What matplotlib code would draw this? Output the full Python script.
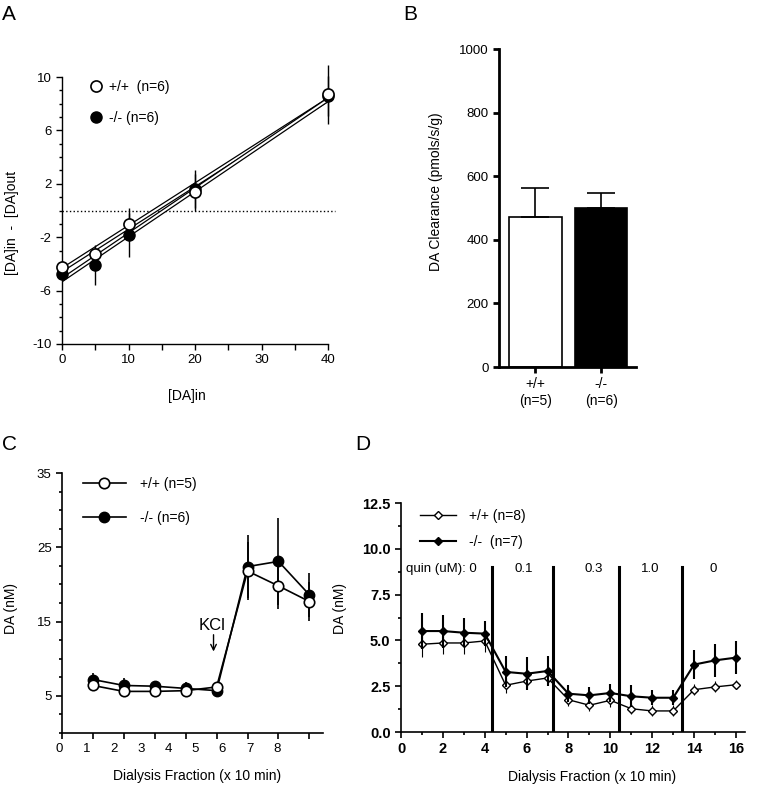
import numpy as np
import matplotlib
matplotlib.use('Agg')
import matplotlib.pyplot as plt
from matplotlib.lines import Line2D
import matplotlib.transforms as mtransforms

plt.rcParams['font.family'] = ['Liberation Sans', 'DejaVu Sans']
plt.rcParams['axes.unicode_minus'] = False
plt.rcParams['font.size'] = 10
plt.rcParams['xtick.labelsize'] = 9.5
plt.rcParams['ytick.labelsize'] = 9.5

# ---- Panel A data ----
a_x = [0, 5, 10, 20, 40]
a_wt = [-4.2, -3.25, -1.0, 1.35, 8.7]
a_wt_err = [0.3, 0.3, 1.2, 1.35, 2.2]
a_ko = [-4.75, -4.1, -1.8, 1.6, 8.6]
a_ko_err = [0.3, 1.5, 1.65, 1.45, 1.5]
a_fit_x = [0, 40]
a_fit_wt = [-4.45, 8.3]
a_fit_ko = [-5.2, 8.3]

# ---- Panel B data ----
b_labels = ['+/+\n(n=5)', '-/-\n(n=6)']
b_vals = [472, 500]
b_err = [91, 47]

# ---- Panel C data ----
c_x = [1, 2, 3, 4, 5, 6, 7, 8]
c_wt = [6.4, 5.6, 5.6, 5.7, 6.2, 21.8, 19.8, 17.7]
c_wt_err = [0.5, 0.4, 0.4, 0.5, 0.4, 3.9, 3.1, 2.6]
c_ko = [7.2, 6.4, 6.3, 6.0, 5.7, 22.4, 23.1, 18.6]
c_ko_err = [0.9, 1.0, 0.6, 0.8, 0.9, 4.2, 5.9, 3.0]
c_ticklabels = ['0', '1', '2', '3', '4', '5', '6', '7', '8']

# ---- Panel D data ----
d_x = list(range(1, 17))
d_wt = [4.79, 4.86, 4.86, 4.97, 2.55, 2.78, 2.95, 1.76, 1.46, 1.73, 1.27, 1.15, 1.15, 2.31, 2.46, 2.58]
d_wt_err = [0.7, 0.6, 0.6, 0.6, 0.4, 0.3, 0.3, 0.35, 0.3, 0.35, 0.3, 0.3, 0.3, 0.3, 0.3, 0.25]
d_ko = [5.51, 5.51, 5.42, 5.37, 3.28, 3.18, 3.33, 2.09, 2.0, 2.13, 1.95, 1.87, 1.87, 3.68, 3.91, 4.06]
d_ko_err = [1.0, 0.9, 0.8, 0.7, 0.85, 0.9, 0.8, 0.45, 0.45, 0.5, 0.6, 0.4, 0.4, 0.8, 0.9, 0.9]
d_quin_edges = [4.37, 7.25, 10.41, 13.4]
d_quin_labels = ['quin (uM): 0', '0.1', '0.3', '1.0', '0']
d_quin_label_x = [0.25, 5.85, 9.19, 11.92, 14.9]

fig = plt.figure(figsize=(7.57, 7.90), dpi=100)


def clean_axes(ax, lw=1.0):
    ax.spines['top'].set_visible(False)
    ax.spines['right'].set_visible(False)
    ax.spines['left'].set_linewidth(lw)
    ax.spines['bottom'].set_linewidth(lw)
    ax.tick_params(which='major', direction='out', length=4, width=lw)
    ax.tick_params(which='minor', direction='out', length=2.5, width=lw)


# ================= A =================
axA = fig.add_axes([62/757, 1-344/790, 266/757, 267/790])
clean_axes(axA)
axA.plot([0, 41], [0, 0], ':', color='black', lw=1, clip_on=False)
for fy in [a_fit_wt, a_fit_ko]:
    axA.plot(a_fit_x, fy, '-', color='black', lw=3.2, zorder=2)
    axA.plot(a_fit_x, fy, '-', color='white', lw=1.4, zorder=2)
eb = axA.errorbar(a_x, a_ko, yerr=a_ko_err, fmt='o', ms=8, mfc='black', mec='black',
                  ecolor='black', elinewidth=1, capsize=0, zorder=3)
for art in eb.lines[0:1] + tuple(eb.lines[2]):
    art.set_clip_on(False)
eb = axA.errorbar(a_x, a_wt, yerr=a_wt_err, fmt='o', ms=8, mfc='white', mec='black', mew=1.2,
                  ecolor='black', elinewidth=1, capsize=0, zorder=4)
for art in eb.lines[0:1] + tuple(eb.lines[2]):
    art.set_clip_on(False)
axA.set_xlim(0, 40)
axA.set_ylim(-10, 10)
axA.set_xticks([0, 10, 20, 30, 40])
axA.set_xticks([5, 15, 25, 35], minor=True)
axA.set_yticks([-10, -6, -2, 2, 6, 10])
axA.set_yticks(np.arange(-10, 11, 1), minor=True)
axA.tick_params(axis='x', which='minor', length=4)
axA.set_xlabel('[DA]in')
axA.set_ylabel('[DA]in  -  [DA]out')
axA.xaxis.set_label_coords(0.47, -0.17)
axA.yaxis.set_label_coords(-0.16, 0.455)
hA = [Line2D([], [], ls='none', marker='o', ms=8, mfc='white', mec='black', mew=1.2),
      Line2D([], [], ls='none', marker='o', ms=8, mfc='black', mec='black')]
axA.legend(hA, ['+/+  (n=6)', '-/- (n=6)'], loc='upper left', bbox_to_anchor=(0.1, 0.99),
           frameon=False, borderpad=0, borderaxespad=0, handlelength=1.0,
           handletextpad=0.5, labelspacing=1.25)

# ================= B =================
axB = fig.add_axes([499/757, 1-367/790, 137/757, 318/790])
clean_axes(axB, lw=2)
b_pos = np.arange(len(b_vals))
axB.bar(b_pos, b_vals, width=0.8, color=['white', 'black'], edgecolor='black', linewidth=1.2,
        yerr=[[0, 0], b_err], error_kw=dict(ecolor='black', elinewidth=1.2, capsize=10, capthick=1.2))
axB.set_xlim(-0.55, 1.53)
axB.set_ylim(0, 1000)
axB.set_yticks([0, 200, 400, 600, 800, 1000])
axB.set_xticks(b_pos)
axB.set_xticklabels(b_labels, fontsize=10)
axB.set_ylabel('DA Clearance (pmols/s/g)')
axB.yaxis.set_label_coords(-0.41, 0.55)

# ================= C =================
axC = fig.add_axes([62/757, 1-733/790, 261/757, 260/790])
clean_axes(axC, lw=1.2)
axC.errorbar(c_x, c_ko, yerr=c_ko_err, fmt='-o', ms=7.5, color='black', mfc='black', mec='black',
             lw=1.2, elinewidth=1.2, capsize=0, zorder=3)
axC.errorbar(c_x, c_wt, yerr=c_wt_err, fmt='-o', ms=7.5, color='black', mfc='white', mec='black',
             mew=1.2, lw=1.2, elinewidth=1.2, capsize=0, zorder=4)
axC.set_xlim(0, 8.44)
axC.set_ylim(0, 35)
axC.set_yticks([5, 15, 25, 35])
axC.set_yticks(np.arange(0, 35.1, 2.5), minor=True)
axC.set_xticks(np.arange(0, 9))
axC.set_xticklabels([])
# tick labels in the original are squeezed relative to the tick marks
trC = mtransforms.blended_transform_factory(axC.transData, axC.transAxes)
for k, lab in enumerate(c_ticklabels):
    axC.text(-0.09 + 0.88 * k, -0.06, lab, transform=trC, ha='center', va='center', fontsize=9.5)
axC.annotate('', xy=(4.9, 10.6), xytext=(4.9, 13.6),
             arrowprops=dict(arrowstyle='->', color='black', lw=1))
axC.text(4.85, 14.5, 'KCl', ha='center', va='center', fontsize=12)
axC.set_xlabel('Dialysis Fraction (x 10 min)')
axC.set_ylabel('DA (nM)')
axC.xaxis.set_label_coords(0.517, -0.14)
axC.yaxis.set_label_coords(-0.17, 0.48)
hC = [Line2D([], [], color='black', lw=1.2, marker='o', ms=7.5, mfc='white', mec='black', mew=1.2),
      Line2D([], [], color='black', lw=1.2, marker='o', ms=7.5, mfc='black', mec='black')]
axC.legend(hC, ['+/+ (n=5)', '-/- (n=6)'], loc='upper left', bbox_to_anchor=(0.08, 0.985),
           frameon=False, borderpad=0, borderaxespad=0, handlelength=3.1,
           handletextpad=1.0, labelspacing=1.45)

# ================= D =================
axD = fig.add_axes([401/757, 1-732/790, 344/757, 229/790])
clean_axes(axD, lw=1.2)
for xe in d_quin_edges:
    axD.plot([xe, xe], [0, 9.0], '-', color='black', lw=2.2, zorder=2)
for lab, lx in zip(d_quin_labels, d_quin_label_x):
    axD.text(lx, 8.9, lab, ha='left' if lab.startswith('quin') else 'center', va='center', fontsize=9.5)
axD.errorbar(d_x, d_wt, yerr=d_wt_err, fmt='-D', ms=4.5, color='black', mfc='white', mec='black',
             mew=1, lw=1, elinewidth=0.8, capsize=0, zorder=3)
axD.errorbar(d_x, d_ko, yerr=d_ko_err, fmt='-D', ms=4.5, color='black', mfc='black', mec='black',
             lw=1.5, elinewidth=1.5, capsize=0, zorder=4)
axD.set_xlim(0, 16.43)
axD.set_ylim(0, 12.5)
axD.set_xticks(np.arange(0, 17, 2))
axD.set_xticks(np.arange(1, 17, 2), minor=True)
axD.set_yticks([0, 2.5, 5, 7.5, 10, 12.5])
axD.set_yticks(np.arange(0, 12.6, 1.25), minor=True)
axD.set_yticklabels(['0.0', '2.5', '5.0', '7.5', '10.0', '12.5'])
for t in axD.get_xticklabels() + axD.get_yticklabels():
    t.set_fontweight('bold')
    t.set_fontsize(10.5)
axD.set_xlabel('Dialysis Fraction (x 10 min)')
axD.set_ylabel('DA (nM)')
axD.xaxis.set_label_coords(0.555, -0.165)
axD.yaxis.set_label_coords(-0.157, 0.54)
hD = [Line2D([], [], color='black', lw=1, marker='D', ms=4.5, mfc='white', mec='black'),
      Line2D([], [], color='black', lw=1.5, marker='D', ms=4.5, mfc='black', mec='black')]
axD.legend(hD, ['+/+ (n=8)', '-/-  (n=7)'], loc='upper left', bbox_to_anchor=(0.055, 0.975),
           frameon=False, borderpad=0, borderaxespad=0, handlelength=2.6,
           handletextpad=0.9, labelspacing=0.85)

# panel letters
fig.text(2/757, 1-15/790, 'A', fontsize=15, va='center', ha='left')
fig.text(403/757, 1-15/790, 'B', fontsize=15, va='center', ha='left')
fig.text(2/757, 1-445/790, 'C', fontsize=15, va='center', ha='left')
fig.text(355/757, 1-445/790, 'D', fontsize=15, va='center', ha='left')

fig.savefig('out.png', dpi=100)
